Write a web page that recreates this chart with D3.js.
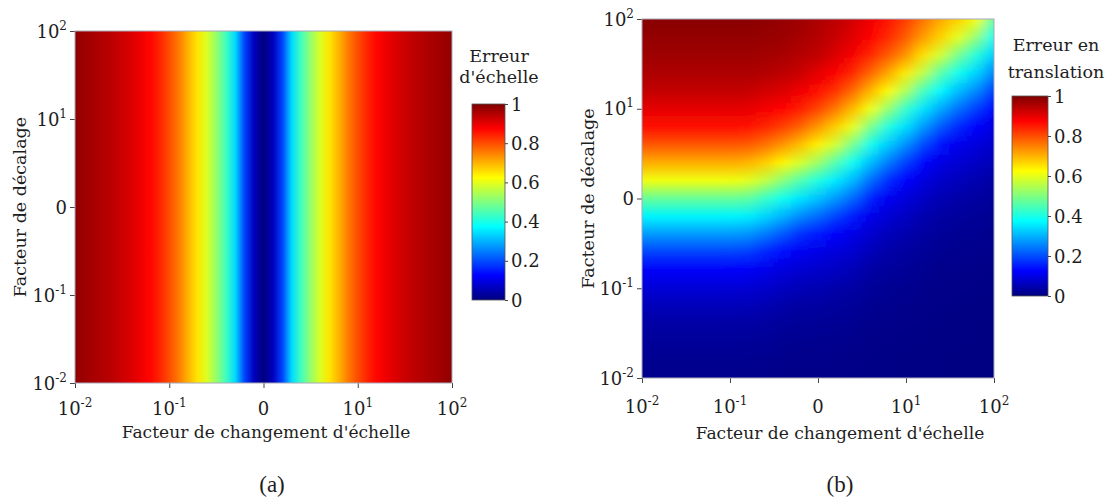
<!DOCTYPE html>
<html><head><meta charset="utf-8">
<script src="https://cdn.jsdelivr.net/npm/d3@7"></script>
<style>
body{margin:0;background:#fff;}
svg text{font-family:"DejaVu Serif",serif;fill:#1e1e1e;}
</style></head><body>
<svg id="chart" width="1111" height="500"></svg>
<script>
// ---------------- DATA ----------------
// axis positions (pseudo-log axis: 10^-2, 10^-1, 0, 10^1, 10^2)
const axisTickValues = [-2, -1, 0, 1, 2];
const axisTickLabels = [["10", "-2"], ["10", "-1"], ["0", ""], ["10", "1"], ["10", "2"]];
const colorbarTicks = [0, 0.2, 0.4, 0.6, 0.8, 1];
const colorbarTickLabels = ["0", "0.2", "0.4", "0.6", "0.8", "1"];

// (a) scale error along the scale-change axis (independent of offset)
const scaleLevelsA = [-2, -1.9, -1.8, -1.7, -1.6, -1.5, -1.4, -1.3, -1.2, -1.1, -1, -0.9, -0.8, -0.7, -0.6, -0.5, -0.4, -0.3, -0.2, -0.1, 0,
  0.1, 0.2, 0.3, 0.4, 0.5, 0.6, 0.7, 0.8, 0.9, 1, 1.1, 1.2, 1.3, 1.4, 1.5, 1.6, 1.7, 1.8, 1.9, 2];
const scaleError = [0.985, 0.97, 0.96, 0.95, 0.94, 0.925, 0.91, 0.89, 0.87, 0.84, 0.80, 0.755, 0.70, 0.65, 0.59, 0.52, 0.44, 0.34, 0.19, 0.06, 0.0,
  0.06, 0.19, 0.34, 0.44, 0.52, 0.59, 0.65, 0.70, 0.755, 0.80, 0.84, 0.87, 0.89, 0.91, 0.925, 0.94, 0.95, 0.96, 0.97, 0.985];

// (b) translation error: one column per scale-change level, values from top (offset 10^2) to bottom (offset 10^-2)
const scaleLevelsB = [-2, -1.8, -1.6, -1.4, -1.2, -1, -0.8, -0.6, -0.4, -0.2, 0, 0.2, 0.4, 0.6, 0.8, 1, 1.2, 1.4, 1.6, 1.8, 2];
const offsetLevelsB = [2, 1.8, 1.6, 1.4, 1.2, 1, 0.8, 0.6, 0.4, 0.2, 0, -0.2, -0.4, -0.6, -0.8, -1, -1.2, -1.4, -1.6, -1.8, -2];
const translationError = [
  [0.99, 0.98, 0.97, 0.955, 0.935, 0.90, 0.86, 0.79, 0.705, 0.61, 0.475, 0.365, 0.275, 0.19, 0.12, 0.085, 0.057, 0.036, 0.025, 0.017, 0.012],
  [0.99, 0.98, 0.97, 0.955, 0.935, 0.90, 0.86, 0.79, 0.705, 0.61, 0.475, 0.365, 0.275, 0.19, 0.12, 0.085, 0.057, 0.036, 0.025, 0.017, 0.012],
  [0.99, 0.98, 0.97, 0.955, 0.935, 0.90, 0.86, 0.79, 0.705, 0.61, 0.475, 0.365, 0.275, 0.19, 0.12, 0.085, 0.057, 0.036, 0.025, 0.017, 0.012],
  [0.99, 0.98, 0.97, 0.955, 0.935, 0.90, 0.86, 0.79, 0.705, 0.61, 0.475, 0.365, 0.275, 0.19, 0.12, 0.085, 0.057, 0.036, 0.025, 0.017, 0.012],
  [0.99, 0.98, 0.97, 0.955, 0.935, 0.90, 0.86, 0.79, 0.705, 0.61, 0.475, 0.365, 0.275, 0.19, 0.12, 0.085, 0.057, 0.036, 0.025, 0.017, 0.012],
  [0.99, 0.98, 0.97, 0.955, 0.935, 0.90, 0.86, 0.79, 0.705, 0.61, 0.475, 0.365, 0.275, 0.19, 0.12, 0.085, 0.057, 0.036, 0.025, 0.017, 0.012],
  [0.99, 0.98, 0.97, 0.955, 0.933, 0.898, 0.857, 0.787, 0.70, 0.60, 0.47, 0.36, 0.27, 0.185, 0.118, 0.083, 0.056, 0.035, 0.024, 0.017, 0.012],
  [0.985, 0.977, 0.965, 0.95, 0.92, 0.885, 0.84, 0.765, 0.675, 0.565, 0.43, 0.335, 0.245, 0.16, 0.105, 0.075, 0.05, 0.032, 0.022, 0.015, 0.011],
  [0.978, 0.973, 0.96, 0.94, 0.91, 0.87, 0.815, 0.73, 0.635, 0.51, 0.39, 0.30, 0.21, 0.135, 0.092, 0.064, 0.041, 0.027, 0.019, 0.013, 0.01],
  [0.97, 0.962, 0.948, 0.928, 0.89, 0.85, 0.78, 0.69, 0.585, 0.455, 0.35, 0.26, 0.17, 0.112, 0.08, 0.054, 0.034, 0.023, 0.016, 0.012, 0.009],
  [0.955, 0.948, 0.938, 0.90, 0.865, 0.81, 0.73, 0.64, 0.53, 0.405, 0.315, 0.23, 0.15, 0.102, 0.074, 0.051, 0.033, 0.023, 0.016, 0.012, 0.009],
  [0.94, 0.93, 0.91, 0.878, 0.83, 0.76, 0.675, 0.58, 0.455, 0.355, 0.275, 0.19, 0.122, 0.09, 0.064, 0.042, 0.029, 0.02, 0.015, 0.011, 0.008],
  [0.92, 0.905, 0.882, 0.84, 0.775, 0.695, 0.605, 0.49, 0.385, 0.305, 0.225, 0.15, 0.102, 0.078, 0.055, 0.036, 0.025, 0.018, 0.013, 0.01, 0.008],
  [0.89, 0.875, 0.84, 0.78, 0.70, 0.612, 0.495, 0.39, 0.31, 0.23, 0.155, 0.105, 0.078, 0.056, 0.036, 0.025, 0.018, 0.013, 0.01, 0.008, 0.007],
  [0.86, 0.84, 0.79, 0.715, 0.63, 0.52, 0.405, 0.325, 0.245, 0.165, 0.112, 0.083, 0.059, 0.04, 0.027, 0.02, 0.015, 0.011, 0.008, 0.007, 0.006],
  [0.82, 0.79, 0.735, 0.645, 0.545, 0.425, 0.345, 0.265, 0.185, 0.125, 0.09, 0.066, 0.046, 0.032, 0.023, 0.017, 0.012, 0.009, 0.007, 0.006, 0.005],
  [0.765, 0.725, 0.655, 0.56, 0.44, 0.35, 0.275, 0.195, 0.13, 0.094, 0.068, 0.047, 0.033, 0.024, 0.017, 0.013, 0.01, 0.008, 0.006, 0.005, 0.005],
  [0.71, 0.67, 0.58, 0.46, 0.37, 0.29, 0.21, 0.14, 0.098, 0.072, 0.052, 0.035, 0.025, 0.018, 0.013, 0.01, 0.008, 0.006, 0.005, 0.005, 0.004],
  [0.67, 0.60, 0.49, 0.39, 0.31, 0.235, 0.16, 0.108, 0.083, 0.06, 0.04, 0.028, 0.02, 0.015, 0.011, 0.009, 0.007, 0.005, 0.005, 0.004, 0.004],
  [0.62, 0.52, 0.41, 0.335, 0.26, 0.185, 0.125, 0.092, 0.068, 0.048, 0.033, 0.024, 0.018, 0.013, 0.01, 0.008, 0.006, 0.005, 0.004, 0.004, 0.004],
  [0.47, 0.39, 0.33, 0.255, 0.185, 0.125, 0.094, 0.075, 0.055, 0.036, 0.025, 0.019, 0.014, 0.011, 0.008, 0.006, 0.005, 0.004, 0.004, 0.003, 0.003]
];

// jet colormap
const jetDomain = [0, 0.125, 0.375, 0.625, 0.875, 1];
const jetColors = ["#00007f", "#0000ff", "#00ffff", "#ffff00", "#ff0000", "#7f0000"];

// ---------------- DRAW ----------------
const svg = d3.select("#chart");
const defs = svg.append("defs");
const jet = d3.scaleLinear().domain(jetDomain).range(jetColors).clamp(true);

function tickLabel(g, x, y, lab, anchor) {
  const t = g.append("text").attr("x", x).attr("y", y).attr("text-anchor", anchor).style("font-size", "18px");
  t.append("tspan").text(lab[0]);
  if (lab[1]) t.append("tspan").attr("dy", -8).style("font-size", "12px").text(lab[1]);
}

function axes(P, xs, ys, xLabBase, xTitle, yTitleX) {
  const gx = svg.append("g").attr("transform", `translate(0,${P.y1})`)
    .call(d3.axisBottom(xs).tickValues(axisTickValues).tickSize(5).tickFormat(""));
  gx.select(".domain").remove();
  gx.selectAll(".tick line").attr("stroke", "#444");
  const gy = svg.append("g").attr("transform", `translate(${P.x0},0)`)
    .call(d3.axisLeft(ys).tickValues(axisTickValues).tickSize(5).tickFormat(""));
  gy.select(".domain").remove();
  gy.selectAll(".tick line").attr("stroke", "#444");
  const gl = svg.append("g");
  axisTickValues.forEach((v, i) => {
    tickLabel(gl, xs(v), xLabBase, axisTickLabels[i], "middle");
    tickLabel(gl, P.x0 - 8, ys(v) + 6.5, axisTickLabels[i], "end");
  });
  svg.append("rect").attr("x", P.x0).attr("y", P.y0).attr("width", P.x1 - P.x0).attr("height", P.y1 - P.y0)
    .attr("fill", "none").attr("stroke", "#a8a8b8").attr("stroke-width", 1);
  svg.append("text").attr("x", xTitle[0]).attr("y", xTitle[1]).attr("text-anchor", "middle")
    .style("font-size", "17.1px").text("Facteur de changement d'échelle");
  svg.append("text").attr("transform", `translate(${yTitleX},${(P.y0 + P.y1) / 2}) rotate(-90)`)
    .attr("text-anchor", "middle").style("font-size", "17.5px").text("Facteur de décalage");
}

function colorbar(id, C, titleLines, titleX, titleBases) {
  const cs = d3.scaleLinear().domain([0, 1]).range([C.y1, C.y0]);
  const gr = defs.append("linearGradient").attr("id", id).attr("gradientUnits", "userSpaceOnUse")
    .attr("x1", 0).attr("x2", 0).attr("y1", cs(0)).attr("y2", cs(1));
  gr.selectAll("stop").data(jetDomain).join("stop")
    .attr("offset", d => d).attr("stop-color", d => jet(d));
  svg.append("rect").attr("x", C.x0).attr("y", C.y0).attr("width", C.x1 - C.x0).attr("height", C.y1 - C.y0)
    .attr("fill", `url(#${id})`).attr("stroke", "#555").attr("stroke-width", 0.8);
  const ga = svg.append("g").attr("transform", `translate(${C.x1},0)`)
    .call(d3.axisRight(cs).tickValues(colorbarTicks).tickSize(3).tickFormat(""));
  ga.select(".domain").remove();
  ga.selectAll(".tick line").attr("stroke", "#444");
  colorbarTicks.forEach((v, i) => {
    svg.append("text").attr("x", C.x1 + 6).attr("y", cs(v) + 6.5).style("font-size", "18px").text(colorbarTickLabels[i]);
  });
  titleLines.forEach((t, i) => {
    svg.append("text").attr("x", titleX).attr("y", titleBases[i]).attr("text-anchor", "middle")
      .style("font-size", "17.5px").text(t);
  });
}

// ----- panel (a)
const A = {x0: 75, x1: 452, y0: 31, y1: 383};
const xa = d3.scaleLinear().domain([-2, 2]).range([A.x0, A.x1]);
const ya = d3.scaleLinear().domain([-2, 2]).range([A.y1, A.y0]);
const gA = defs.append("linearGradient").attr("id", "gradA").attr("gradientUnits", "userSpaceOnUse")
  .attr("x1", xa(-2)).attr("x2", xa(2)).attr("y1", 0).attr("y2", 0);
gA.selectAll("stop").data(scaleLevelsA).join("stop")
  .attr("offset", d => (xa(d) - xa(-2)) / (xa(2) - xa(-2)))
  .attr("stop-color", (d, i) => jet(scaleError[i]));
svg.append("rect").attr("x", xa(-2)).attr("y", ya(2)).attr("width", xa(2) - xa(-2)).attr("height", ya(-2) - ya(2))
  .attr("fill", "url(#gradA)");
axes(A, xa, ya, 415, [266, 438], 26);
colorbar("cbA", {x0: 472, x1: 505, y0: 104, y1: 300}, ["Erreur", "d'échelle"], 499, [62, 83]);

// ----- panel (b)
const B = {x0: 642, x1: 994, y0: 19, y1: 378};
const xb = d3.scaleLinear().domain([-2, 2]).range([B.x0, B.x1]);
const yb = d3.scaleLinear().domain([-2, 2]).range([B.y1, B.y0]);
defs.append("clipPath").attr("id", "clipB").append("rect")
  .attr("x", B.x0).attr("y", B.y0).attr("width", B.x1 - B.x0).attr("height", B.y1 - B.y0);
const flt = defs.append("filter").attr("id", "blurB").attr("filterUnits", "userSpaceOnUse")
  .attr("x", B.x0 - 80).attr("y", B.y0 - 80).attr("width", B.x1 - B.x0 + 160).attr("height", B.y1 - B.y0 + 160);
flt.append("feGaussianBlur").attr("stdDeviation", "7 1.5");
const yTop = yb(offsetLevelsB[0]), yBot = yb(offsetLevelsB[offsetLevelsB.length - 1]);
translationError.forEach((col, i) => {
  const g = defs.append("linearGradient").attr("id", "colB" + i).attr("gradientUnits", "userSpaceOnUse")
    .attr("x1", 0).attr("x2", 0).attr("y1", yTop).attr("y2", yBot);
  g.selectAll("stop").data(col).join("stop")
    .attr("offset", (d, j) => (yb(offsetLevelsB[j]) - yTop) / (yBot - yTop))
    .attr("stop-color", d => jet(d));
});
const nB = scaleLevelsB.length;
const edgeL = i => i === 0 ? B.x0 - 50 : (xb(scaleLevelsB[i - 1]) + xb(scaleLevelsB[i])) / 2;
const edgeR = i => i === nB - 1 ? B.x1 + 50 : (xb(scaleLevelsB[i]) + xb(scaleLevelsB[i + 1])) / 2;
svg.append("g").attr("clip-path", "url(#clipB)")
  .append("g").attr("filter", "url(#blurB)")
  .selectAll("rect").data(scaleLevelsB).join("rect")
  .attr("x", (d, i) => edgeL(i) - 0.5)
  .attr("width", (d, i) => edgeR(i) - edgeL(i) + 1)
  .attr("y", B.y0 - 50).attr("height", B.y1 - B.y0 + 100)
  .attr("fill", (d, i) => `url(#colB${i})`);
axes(B, xb, yb, 413, [840, 439], 594);
colorbar("cbB", {x0: 1012, x1: 1048, y0: 96, y1: 296}, ["Erreur en", "translation"], 1056, [51, 78]);

// sub-figure labels
svg.append("text").attr("x", 272).attr("y", 492).attr("text-anchor", "middle")
  .style("font-family", "'Liberation Serif', serif").style("font-size", "23px").text("(a)");
svg.append("text").attr("x", 840).attr("y", 492).attr("text-anchor", "middle")
  .style("font-family", "'Liberation Serif', serif").style("font-size", "23px").text("(b)");
</script>
</body></html>
